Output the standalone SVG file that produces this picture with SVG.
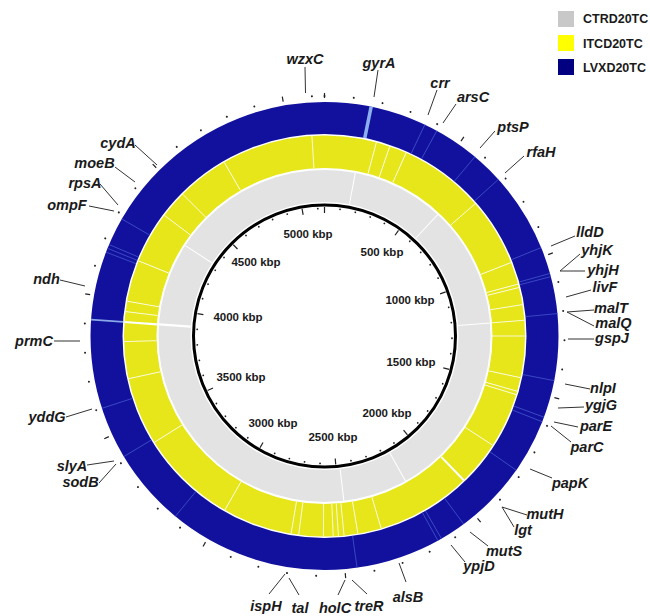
<svg xmlns="http://www.w3.org/2000/svg" xmlns:xlink="http://www.w3.org/1999/xlink" width="650" height="616" viewBox="0 0 650 616">
<style>
.lbl{font-family:"Liberation Sans",Arial,sans-serif;font-weight:bold;font-style:italic;font-size:14.5px;fill:#1a1a1a;text-anchor:middle}
.kbp{font-family:"Liberation Sans",Arial,sans-serif;font-weight:bold;font-size:11.5px;fill:#1a1a1a;text-anchor:middle}
.leg{font-family:"Liberation Sans",Arial,sans-serif;font-weight:bold;font-size:12.5px;fill:#1a1a1a}
.ldr{stroke:#333;stroke-width:1;fill:none}
.bl{stroke:#4050c8;stroke-width:0.8}
.yl{stroke:#ffffff;stroke-width:0.8}
.gl{stroke:#ffffff;stroke-width:1}
.tk{stroke:#222;stroke-width:1.2}
</style>
<defs>
<line id="bL" x1="0" y1="-202" x2="0" y2="-234" class="bl"/>
<line id="yL" x1="0" y1="-168" x2="0" y2="-200.5" class="yl"/>
<line id="gL" x1="0" y1="-134" x2="0" y2="-166" class="gl"/>
<circle id="od" cx="0" cy="-240" r="1" fill="#222"/>
<circle id="id" cx="0" cy="-127.5" r="0.9" fill="#222"/>
<line id="im" x1="0" y1="-123" x2="0" y2="-129" class="tk"/>
<line id="om" x1="0" y1="-238" x2="0" y2="-243" class="tk"/>
</defs>

<g id="legend">
<rect x="558" y="11" width="16" height="16" fill="#c8c8c8"/>
<text class="leg" x="583" y="23">CTRD20TC</text>
<rect x="558" y="35" width="16" height="16" fill="#ffff00"/>
<text class="leg" x="583" y="47.5">ITCD20TC</text>
<rect x="558" y="59" width="16" height="16" fill="#000080"/>
<text class="leg" x="583" y="71.5">LVXD20TC</text>
</g>

<g id="rings" transform="translate(324.5 336)">
<circle r="150" fill="none" stroke="#e3e3e3" stroke-width="32"/>
<circle r="184.25" fill="none" stroke="#e6e61a" stroke-width="32.5"/>
<circle r="218" fill="none" stroke="#11119e" stroke-width="32"/>
<circle r="131" fill="none" stroke="#000" stroke-width="3"/>
<g>
<use href="#bL" transform="rotate(25.4)"/><use href="#bL" transform="rotate(28.7)"/><use href="#bL" transform="rotate(40)"/><use href="#bL" transform="rotate(48)"/><use href="#bL" transform="rotate(67.8)"/><use href="#bL" transform="rotate(74.5)"/><use href="#bL" transform="rotate(75.3)"/><use href="#bL" transform="rotate(84.5)"/><use href="#bL" transform="rotate(101)"/><use href="#bL" transform="rotate(110.3)"/><use href="#bL" transform="rotate(111.5)"/><use href="#bL" transform="rotate(125)"/><use href="#bL" transform="rotate(143.5)"/><use href="#bL" transform="rotate(150)"/><use href="#bL" transform="rotate(151)"/><use href="#bL" transform="rotate(172)"/><use href="#bL" transform="rotate(219.6)"/><use href="#bL" transform="rotate(239)"/><use href="#bL" transform="rotate(252)"/><use href="#bL" transform="rotate(291)"/><use href="#bL" transform="rotate(292)"/><use href="#bL" transform="rotate(293)"/><use href="#bL" transform="rotate(300)"/>
<line x1="0" y1="-202" x2="0" y2="-234" stroke="#8cb0ee" stroke-width="3.5" transform="rotate(11.5)"/>
<line x1="0" y1="-202" x2="0" y2="-234" stroke="#8aa8e8" stroke-width="1.8" transform="rotate(274)"/>
</g>
<g>
<use href="#yL" transform="rotate(356.4)"/><use href="#yL" transform="rotate(330)"/><use href="#yL" transform="rotate(15)"/><use href="#yL" transform="rotate(19)"/><use href="#yL" transform="rotate(24)"/><use href="#yL" transform="rotate(48.7)"/><use href="#yL" transform="rotate(68.5)"/><use href="#yL" transform="rotate(75)"/><use href="#yL" transform="rotate(76)"/><use href="#yL" transform="rotate(81)"/><use href="#yL" transform="rotate(85.5)"/><use href="#yL" transform="rotate(90)"/><use href="#yL" transform="rotate(102)"/><use href="#yL" transform="rotate(106)"/><use href="#yL" transform="rotate(107)"/><use href="#yL" transform="rotate(123)"/><use href="#yL" transform="rotate(163.6)"/><use href="#yL" transform="rotate(170.4)"/><use href="#yL" transform="rotate(174.4)"/><use href="#yL" transform="rotate(176)"/><use href="#yL" transform="rotate(177.5)"/><use href="#yL" transform="rotate(180.3)"/><use href="#yL" transform="rotate(187.4)"/><use href="#yL" transform="rotate(189.6)"/><use href="#yL" transform="rotate(209.8)"/><use href="#yL" transform="rotate(238)"/><use href="#yL" transform="rotate(257.7)"/><use href="#yL" transform="rotate(268.4)"/><use href="#yL" transform="rotate(277)"/><use href="#yL" transform="rotate(280)"/><use href="#yL" transform="rotate(292)"/><use href="#yL" transform="rotate(307)"/><use href="#yL" transform="rotate(315)"/>
<line x1="0" y1="-168" x2="0" y2="-200.5" stroke="#fff" stroke-width="2" transform="rotate(136)"/>
<line x1="0" y1="-168" x2="0" y2="-200.5" stroke="#fff" stroke-width="2.2" transform="rotate(274)"/>
</g>
<g>
<use href="#gL" transform="rotate(10.7)"/><use href="#gL" transform="rotate(43)"/><use href="#gL" transform="rotate(85.5)"/><use href="#gL" transform="rotate(150.8)"/><use href="#gL" transform="rotate(173.3)"/><use href="#gL" transform="rotate(303)"/>
<line x1="0" y1="-134" x2="0" y2="-166" stroke="#fff" stroke-width="2.2" transform="rotate(274)"/>
</g>
<g>
<use href="#od"/><use href="#od" transform="rotate(7)"/><use href="#od" transform="rotate(14)"/><use href="#od" transform="rotate(21)"/><use href="#od" transform="rotate(28)"/><use href="#od" transform="rotate(42)"/><use href="#od" transform="rotate(49)"/><use href="#od" transform="rotate(56)"/><use href="#od" transform="rotate(63)"/><use href="#od" transform="rotate(77)"/><use href="#od" transform="rotate(84)"/><use href="#od" transform="rotate(91)"/><use href="#od" transform="rotate(98)"/><use href="#od" transform="rotate(112)"/><use href="#od" transform="rotate(119)"/><use href="#od" transform="rotate(126)"/><use href="#od" transform="rotate(133)"/><use href="#od" transform="rotate(147)"/><use href="#od" transform="rotate(154)"/><use href="#od" transform="rotate(161)"/><use href="#od" transform="rotate(168)"/><use href="#od" transform="rotate(182)"/><use href="#od" transform="rotate(189)"/><use href="#od" transform="rotate(196)"/><use href="#od" transform="rotate(203)"/><use href="#od" transform="rotate(217)"/><use href="#od" transform="rotate(224)"/><use href="#od" transform="rotate(231)"/><use href="#od" transform="rotate(238)"/><use href="#od" transform="rotate(252)"/><use href="#od" transform="rotate(259)"/><use href="#od" transform="rotate(266)"/><use href="#od" transform="rotate(273)"/><use href="#od" transform="rotate(287)"/><use href="#od" transform="rotate(294)"/><use href="#od" transform="rotate(301)"/><use href="#od" transform="rotate(308)"/><use href="#od" transform="rotate(322)"/><use href="#od" transform="rotate(329)"/><use href="#od" transform="rotate(336)"/><use href="#od" transform="rotate(343)"/><use href="#od" transform="rotate(357)"/>
<use href="#om"/><use href="#om" transform="rotate(35)"/><use href="#om" transform="rotate(70)"/><use href="#om" transform="rotate(105)"/><use href="#om" transform="rotate(140)"/><use href="#om" transform="rotate(175)"/><use href="#om" transform="rotate(210)"/><use href="#om" transform="rotate(245)"/><use href="#om" transform="rotate(280)"/><use href="#om" transform="rotate(315)"/><use href="#om" transform="rotate(350)"/>
</g>
<g>
<use href="#im"/><use href="#id" transform="rotate(7)"/><use href="#id" transform="rotate(14)"/><use href="#id" transform="rotate(21)"/><use href="#id" transform="rotate(28)"/><use href="#im" transform="rotate(35)"/><use href="#id" transform="rotate(42)"/><use href="#id" transform="rotate(49)"/><use href="#id" transform="rotate(56)"/><use href="#id" transform="rotate(63)"/><use href="#im" transform="rotate(70)"/><use href="#id" transform="rotate(77)"/><use href="#id" transform="rotate(84)"/><use href="#id" transform="rotate(91)"/><use href="#id" transform="rotate(98)"/><use href="#im" transform="rotate(105)"/><use href="#id" transform="rotate(112)"/><use href="#id" transform="rotate(119)"/><use href="#id" transform="rotate(126)"/><use href="#id" transform="rotate(133)"/><use href="#im" transform="rotate(140)"/><use href="#id" transform="rotate(147)"/><use href="#id" transform="rotate(154)"/><use href="#id" transform="rotate(161)"/><use href="#id" transform="rotate(168)"/><use href="#im" transform="rotate(175)"/><use href="#id" transform="rotate(182)"/><use href="#id" transform="rotate(189)"/><use href="#id" transform="rotate(196)"/><use href="#id" transform="rotate(203)"/><use href="#im" transform="rotate(210)"/><use href="#id" transform="rotate(217)"/><use href="#id" transform="rotate(224)"/><use href="#id" transform="rotate(231)"/><use href="#id" transform="rotate(238)"/><use href="#im" transform="rotate(245)"/><use href="#id" transform="rotate(252)"/><use href="#id" transform="rotate(259)"/><use href="#id" transform="rotate(266)"/><use href="#id" transform="rotate(273)"/><use href="#im" transform="rotate(280)"/><use href="#id" transform="rotate(287)"/><use href="#id" transform="rotate(294)"/><use href="#id" transform="rotate(301)"/><use href="#id" transform="rotate(308)"/><use href="#im" transform="rotate(315)"/><use href="#id" transform="rotate(322)"/><use href="#id" transform="rotate(329)"/><use href="#id" transform="rotate(336)"/><use href="#id" transform="rotate(343)"/><use href="#im" transform="rotate(350)"/><use href="#id" transform="rotate(357)"/>
</g>
</g>

<g id="scale-labels">
<text class="kbp" x="308" y="238">5000 kbp</text>
<text class="kbp" x="382" y="256">500 kbp</text>
<text class="kbp" x="256" y="266">4500 kbp</text>
<text class="kbp" x="410" y="304">1000 kbp</text>
<text class="kbp" x="238" y="321">4000 kbp</text>
<text class="kbp" x="411" y="366">1500 kbp</text>
<text class="kbp" x="241" y="381">3500 kbp</text>
<text class="kbp" x="387" y="417">2000 kbp</text>
<text class="kbp" x="273" y="427">3000 kbp</text>
<text class="kbp" x="333" y="441">2500 kbp</text>
</g>

<g id="connectors">
<line class="ldr" x1="305" y1="67" x2="305.5" y2="93"/>
<line class="ldr" x1="378" y1="70" x2="374" y2="97"/>
<line class="ldr" x1="437" y1="90" x2="428" y2="115"/>
<line class="ldr" x1="456" y1="104" x2="443" y2="123"/>
<line class="ldr" x1="495" y1="131" x2="480" y2="148"/>
<line class="ldr" x1="524" y1="156" x2="505" y2="173"/>
<line class="ldr" x1="575" y1="236" x2="551" y2="246"/>
<line class="ldr" x1="580" y1="254" x2="560" y2="271"/>
<line class="ldr" x1="585" y1="271" x2="560" y2="271"/>
<line class="ldr" x1="591" y1="290" x2="566" y2="297"/>
<line class="ldr" x1="594" y1="310" x2="567" y2="312"/>
<line class="ldr" x1="594" y1="326" x2="567" y2="312"/>
<line class="ldr" x1="594" y1="339" x2="568" y2="339"/>
<line class="ldr" x1="590" y1="389" x2="565" y2="384"/>
<line class="ldr" x1="584" y1="407" x2="558" y2="408"/>
<line class="ldr" x1="578" y1="427" x2="554" y2="422"/>
<line class="ldr" x1="571" y1="442" x2="551" y2="426"/>
<line class="ldr" x1="552" y1="478" x2="530" y2="469"/>
<line class="ldr" x1="527" y1="515" x2="502" y2="507"/>
<line class="ldr" x1="514" y1="527" x2="502" y2="507"/>
<line class="ldr" x1="488" y1="546" x2="470" y2="532"/>
<line class="ldr" x1="465" y1="562" x2="451" y2="545"/>
<line class="ldr" x1="406" y1="582" x2="399" y2="563"/>
<line class="ldr" x1="367" y1="594" x2="352" y2="580"/>
<line class="ldr" x1="338" y1="595" x2="345" y2="580"/>
<line class="ldr" x1="299" y1="595" x2="289" y2="578"/>
<line class="ldr" x1="269" y1="594" x2="285" y2="574"/>
<line class="ldr" x1="87" y1="465" x2="114" y2="461"/>
<line class="ldr" x1="99" y1="483" x2="116" y2="464"/>
<line class="ldr" x1="66" y1="417" x2="92" y2="409"/>
<line class="ldr" x1="54" y1="341" x2="80" y2="341"/>
<line class="ldr" x1="60" y1="280" x2="85" y2="286"/>
<line class="ldr" x1="89" y1="206" x2="114" y2="211"/>
<line class="ldr" x1="100" y1="184" x2="118" y2="205"/>
<line class="ldr" x1="115" y1="167" x2="135" y2="182"/>
<line class="ldr" x1="135" y1="145" x2="157" y2="165"/>
</g>

<g id="genes">
<g id="g-wzxC"><text class="lbl" x="305" y="64">wzxC</text></g>
<g id="g-gyrA"><text class="lbl" x="379" y="68">gyrA</text></g>
<g id="g-crr"><text class="lbl" x="440" y="88">crr</text></g>
<g id="g-arsC"><text class="lbl" x="473" y="102">arsC</text></g>
<g id="g-ptsP"><text class="lbl" x="513" y="132">ptsP</text></g>
<g id="g-rfaH"><text class="lbl" x="541" y="157">rfaH</text></g>
<g id="g-lldD"><text class="lbl" x="590" y="237">lldD</text></g>
<g id="g-yhjK"><text class="lbl" x="597" y="255">yhjK</text></g>
<g id="g-yhjH"><text class="lbl" x="603" y="275">yhjH</text></g>
<g id="g-livF"><text class="lbl" x="605" y="292">livF</text></g>
<g id="g-malT"><text class="lbl" x="611" y="313">malT</text></g>
<g id="g-malQ"><text class="lbl" x="613.5" y="328">malQ</text></g>
<g id="g-gspJ"><text class="lbl" x="612" y="343">gspJ</text></g>
<g id="g-nlpI"><text class="lbl" x="603" y="393">nlpI</text></g>
<g id="g-ygjG"><text class="lbl" x="601" y="410">ygjG</text></g>
<g id="g-parE"><text class="lbl" x="596" y="431">parE</text></g>
<g id="g-parC"><text class="lbl" x="587" y="452">parC</text></g>
<g id="g-papK"><text class="lbl" x="570" y="488">papK</text></g>
<g id="g-mutH"><text class="lbl" x="545" y="519">mutH</text></g>
<g id="g-lgt"><text class="lbl" x="523" y="535">lgt</text></g>
<g id="g-mutS"><text class="lbl" x="504" y="556">mutS</text></g>
<g id="g-ypjD"><text class="lbl" x="479" y="571">ypjD</text></g>
<g id="g-alsB"><text class="lbl" x="408" y="602">alsB</text></g>
<g id="g-treR"><text class="lbl" x="369" y="611">treR</text></g>
<g id="g-holC"><text class="lbl" x="335" y="613">holC</text></g>
<g id="g-tal"><text class="lbl" x="300" y="613">tal</text></g>
<g id="g-ispH"><text class="lbl" x="266" y="611">ispH</text></g>
<g id="g-slyA"><text class="lbl" x="72" y="471">slyA</text></g>
<g id="g-sodB"><text class="lbl" x="80.5" y="487">sodB</text></g>
<g id="g-yddG"><text class="lbl" x="47" y="422">yddG</text></g>
<g id="g-prmC"><text class="lbl" x="34" y="346">prmC</text></g>
<g id="g-ndh"><text class="lbl" x="46.5" y="283.5">ndh</text></g>
<g id="g-ompF"><text class="lbl" x="67" y="210">ompF</text></g>
<g id="g-rpsA"><text class="lbl" x="85" y="188">rpsA</text></g>
<g id="g-moeB"><text class="lbl" x="94.5" y="168">moeB</text></g>
<g id="g-cydA"><text class="lbl" x="118" y="148">cydA</text></g>
</g>
</svg>
